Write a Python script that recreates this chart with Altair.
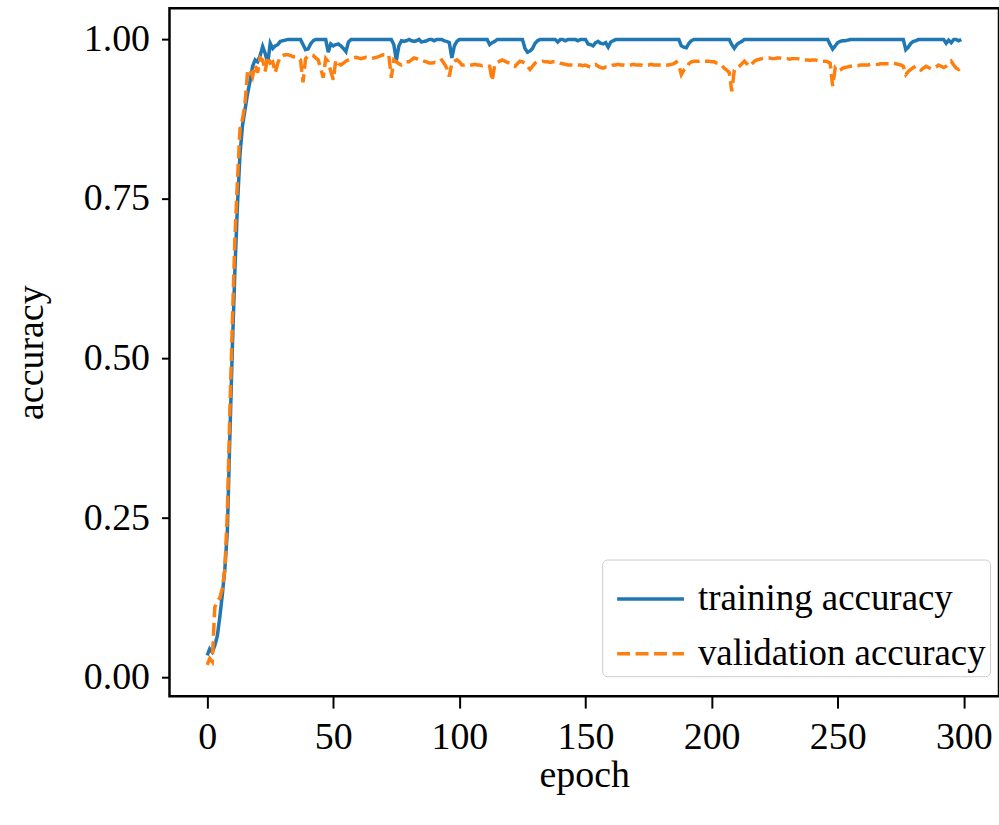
import altair as alt
import pandas as pd

train_acc = [
    0.035, 0.045, 0.040, 0.050, 0.065, 0.095, 0.130, 0.170, 0.230, 0.380,
    0.520, 0.640, 0.740, 0.820, 0.865, 0.890, 0.915, 0.935, 0.958, 0.968,
    0.965, 0.975, 0.989, 0.978, 0.963, 0.994, 0.986, 0.990, 0.992, 0.997,
    0.998, 0.999, 1.000, 1.000, 1.000, 1.000, 1.000, 1.000, 0.992, 0.984,
    0.985, 0.993, 0.998, 1.000, 1.000, 1.000, 1.000, 1.000, 0.980, 0.993,
    0.990, 0.992, 0.993, 0.990, 0.986, 0.981, 0.996, 1.000, 1.000, 1.000,
    1.000, 1.000, 1.000, 1.000, 1.000, 1.000, 1.000, 1.000, 1.000, 1.000,
    1.000, 1.000, 1.000, 1.000, 0.992, 0.967, 0.990, 0.998, 0.997, 0.998,
    1.000, 0.998, 0.997, 0.998, 1.000, 0.996, 0.997, 0.998, 1.000, 1.000,
    0.998, 1.000, 1.000, 1.000, 0.998, 0.997, 0.995, 0.971, 0.990, 0.997,
    1.000, 1.000, 1.000, 1.000, 1.000, 1.000, 1.000, 1.000, 1.000, 1.000,
    1.000, 1.000, 0.992, 0.995, 0.997, 1.000, 1.000, 1.000, 1.000, 1.000,
    1.000, 1.000, 1.000, 1.000, 1.000, 1.000, 0.986, 0.980, 0.982, 0.986,
    0.994, 0.998, 1.000, 1.000, 1.000, 1.000, 1.000, 1.000, 1.000, 0.996,
    1.000, 1.000, 0.998, 1.000, 1.000, 1.000, 1.000, 0.998, 1.000, 1.000,
    1.000, 0.993, 0.992, 0.990, 0.995, 0.997, 0.994, 0.993, 0.995, 0.988,
    0.996, 0.998, 1.000, 1.000, 1.000, 1.000, 1.000, 1.000, 1.000, 1.000,
    1.000, 1.000, 1.000, 1.000, 1.000, 1.000, 1.000, 1.000, 1.000, 1.000,
    1.000, 1.000, 1.000, 1.000, 1.000, 1.000, 1.000, 1.000, 0.990, 0.988,
    0.987, 0.994, 0.998, 1.000, 1.000, 1.000, 1.000, 1.000, 1.000, 1.000,
    1.000, 1.000, 1.000, 1.000, 1.000, 1.000, 1.000, 1.000, 0.992, 0.986,
    0.992, 0.995, 0.997, 1.000, 1.000, 1.000, 1.000, 1.000, 1.000, 1.000,
    1.000, 1.000, 1.000, 1.000, 1.000, 1.000, 1.000, 1.000, 1.000, 1.000,
    1.000, 1.000, 1.000, 1.000, 1.000, 1.000, 1.000, 1.000, 1.000, 1.000,
    1.000, 1.000, 1.000, 1.000, 1.000, 1.000, 1.000, 0.992, 0.985, 0.990,
    0.995, 0.997, 0.998, 0.998, 0.999, 1.000, 1.000, 1.000, 1.000, 1.000,
    1.000, 1.000, 1.000, 1.000, 1.000, 1.000, 1.000, 1.000, 1.000, 1.000,
    1.000, 1.000, 1.000, 1.000, 1.000, 1.000, 1.000, 0.984, 0.988, 0.994,
    0.997, 0.998, 1.000, 1.000, 1.000, 1.000, 1.000, 1.000, 1.000, 1.000,
    1.000, 1.000, 1.000, 0.994, 0.999, 0.995, 1.000, 1.000, 0.998, 1.000,
]

val_acc = [
    0.020, 0.030, 0.025, 0.110, 0.120, 0.125, 0.140, 0.170, 0.260, 0.420,
    0.560, 0.690, 0.780, 0.860, 0.875, 0.900, 0.950, 0.953, 0.942, 0.960,
    0.948, 0.971, 0.968, 0.950, 0.973, 0.963, 0.965, 0.948, 0.963, 0.973,
    0.975, 0.976, 0.976, 0.975, 0.973, 0.973, 0.970, 0.968, 0.933, 0.970,
    0.974, 0.976, 0.975, 0.971, 0.968, 0.955, 0.940, 0.970, 0.965, 0.950,
    0.937, 0.968, 0.962, 0.960, 0.963, 0.966, 0.968, 0.970, 0.971, 0.972,
    0.971, 0.970, 0.971, 0.972, 0.971, 0.970, 0.971, 0.972, 0.973, 0.975,
    0.976, 0.976, 0.976, 0.940, 0.968, 0.965, 0.962, 0.960, 0.962, 0.965,
    0.965, 0.968, 0.971, 0.970, 0.968, 0.968, 0.966, 0.965, 0.963, 0.963,
    0.964, 0.963, 0.966, 0.968, 0.962, 0.955, 0.942, 0.963, 0.966, 0.968,
    0.965, 0.960, 0.960, 0.961, 0.960, 0.960, 0.961, 0.960, 0.960, 0.959,
    0.960, 0.959, 0.958, 0.935, 0.960, 0.964, 0.966, 0.968, 0.966, 0.964,
    0.963, 0.960, 0.958, 0.962, 0.966, 0.965, 0.963, 0.958, 0.953, 0.958,
    0.963, 0.965, 0.965, 0.966, 0.965, 0.965, 0.964, 0.965, 0.965, 0.965,
    0.963, 0.962, 0.961, 0.960, 0.960, 0.960, 0.961, 0.960, 0.960, 0.959,
    0.960, 0.958, 0.957, 0.960, 0.961, 0.958, 0.956, 0.955, 0.957, 0.958,
    0.958, 0.960, 0.960, 0.961, 0.960, 0.960, 0.959, 0.960, 0.960, 0.961,
    0.960, 0.960, 0.960, 0.959, 0.960, 0.960, 0.961, 0.960, 0.960, 0.960,
    0.960, 0.961, 0.960, 0.960, 0.961, 0.962, 0.965, 0.960, 0.945, 0.952,
    0.955, 0.962, 0.965, 0.966, 0.966, 0.966, 0.967, 0.966, 0.966, 0.966,
    0.965, 0.965, 0.963, 0.962, 0.960, 0.955, 0.952, 0.948, 0.919, 0.952,
    0.955, 0.958, 0.962, 0.966, 0.962, 0.958, 0.962, 0.966, 0.968, 0.969,
    0.970, 0.971, 0.971, 0.971, 0.970, 0.970, 0.971, 0.971, 0.970, 0.970,
    0.970, 0.969, 0.970, 0.970, 0.970, 0.969, 0.968, 0.968, 0.968, 0.967,
    0.968, 0.968, 0.967, 0.966, 0.966, 0.966, 0.965, 0.963, 0.927, 0.955,
    0.950, 0.952, 0.955, 0.956, 0.957, 0.958, 0.958, 0.959, 0.959, 0.960,
    0.960, 0.960, 0.960, 0.961, 0.961, 0.961, 0.961, 0.962, 0.962, 0.962,
    0.962, 0.962, 0.963, 0.962, 0.961, 0.960, 0.958, 0.945, 0.950, 0.953,
    0.956, 0.958, 0.955, 0.952, 0.955, 0.958, 0.956, 0.954, 0.955, 0.957,
    0.960, 0.958, 0.956, 0.958, 0.962, 0.966, 0.960, 0.955, 0.953, 0.956,
]

series_names = ["training accuracy", "validation accuracy"]
series_colors = ["#1f77b4", "#ff7f0e"]
x_ticks = [0, 50, 100, 150, 200, 250, 300]
y_ticks = [0.0, 0.25, 0.5, 0.75, 1.0]

rows = []
for name, vals in zip(series_names, [train_acc, val_acc]):
    for ep, v in enumerate(vals):
        rows.append({"epoch": ep, "accuracy": v, "series": name})
df = pd.DataFrame(rows)

FONT = "Liberation Serif"
FS = 38

legend_kw = dict(
    title=None,
    orient="none",
    legendX=434,
    legendY=553,
    symbolType="stroke",
    symbolSize=4489,
    symbolStrokeWidth=3.5,
    symbolOffset=9,
    labelFont=FONT,
    labelFontSize=37,
    labelColor="black",
    labelLimit=500,
    labelOffset=12,
    rowPadding=1,
    padding=4,
    fillColor="white",
    strokeColor="#cccccc",
    cornerRadius=5,
)

chart = (
    alt.Chart(df)
    .mark_line(strokeWidth=3.5, clip=True)
    .encode(
        x=alt.X(
            "epoch:Q",
            scale=alt.Scale(domain=[-14.95, 313.95], nice=False, zero=False),
            axis=alt.Axis(values=x_ticks, format="d", title="epoch",
                          tickSize=12, labelPadding=11, titleY=80,
                          titleBaseline="middle"),
        ),
        y=alt.Y(
            "accuracy:Q",
            scale=alt.Scale(domain=[-0.029, 1.049], nice=False, zero=False),
            axis=alt.Axis(values=y_ticks, format=".2f", title="accuracy",
                          tickSize=8, labelPadding=12, titleX=-138,
                          titleY=345, titleBaseline="middle",
                          titleAlign="center"),
        ),
        color=alt.Color(
            "series:N",
            scale=alt.Scale(domain=series_names, range=series_colors),
            legend=alt.Legend(**legend_kw),
        ),
        strokeDash=alt.StrokeDash(
            "series:N",
            scale=alt.Scale(domain=series_names, range=[[1, 0], [13, 5.5]]),
            legend=alt.Legend(**legend_kw),
        ),
    )
    .properties(
        width=832,
        height=690,
        background="white",
        autosize=alt.AutoSizeParams(type="none"),
        padding={"left": 170, "top": 7, "right": 0, "bottom": 128},
    )
    .configure_view(stroke="black", strokeWidth=2.5)
    .configure_legend(symbolStrokeWidth=3.5)
    .configure_axis(
        domain=False,
        grid=False,
        tickColor="black",
        tickWidth=2,
        labelFont=FONT,
        labelFontSize=FS,
        labelColor="black",
        titleFont=FONT,
        titleFontSize=FS,
        titleFontWeight="normal",
        titleColor="black",
    )
)

chart.save("out.html", embed_options={"renderer": "svg", "actions": False})
